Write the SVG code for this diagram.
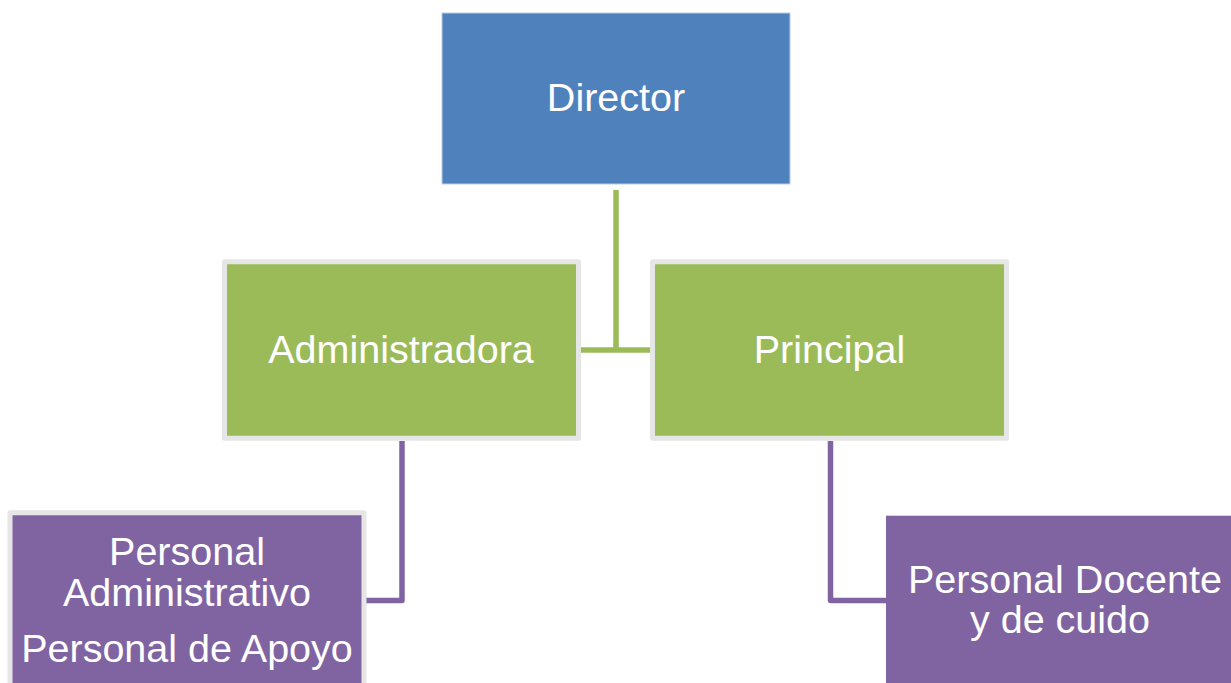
<svg xmlns="http://www.w3.org/2000/svg" width="1231" height="683" viewBox="0 0 1231 683">
  <style>
    .lbl { font-family: "Liberation Sans", Arial, sans-serif; font-size: 39.5px; fill: #FFFFFF; text-anchor: middle; }
    .blue { fill: #4F81BD; stroke: #B9CDE5; stroke-width: 1; }
    .green { fill: #9BBB59; stroke: #E6E6E6; stroke-width: 5; stroke-linejoin: round; }
    .purple { fill: #8064A2; }
    .purple-b { fill: #8064A2; stroke: #E6E6E6; stroke-width: 5; stroke-linejoin: round; }
    .c-green { fill: none; stroke: #9BBB59; stroke-width: 5.5; }
    .c-purple { fill: none; stroke: #8064A2; stroke-width: 5.5; stroke-linejoin: round; }
  </style>
  <rect width="1231" height="683" fill="#FFFFFF"/>

  <g id="connectors">
    <path class="c-green" d="M616 190 V350 M581 350 H650"/>
    <path class="c-purple" d="M402 441 V600.5 H366"/>
    <path class="c-purple" d="M830.5 441 V600.5 H887"/>
  </g>

  <g id="director">
    <rect class="blue" x="442" y="13" width="348" height="171"/>
    <text class="lbl" x="616" y="111">Director</text>
  </g>

  <g id="administradora">
    <rect class="green" x="224.5" y="261.8" width="354" height="176.5"/>
    <text class="lbl" x="401" y="363">Administradora</text>
  </g>

  <g id="principal">
    <rect class="green" x="652.5" y="261.8" width="354" height="176.5"/>
    <text class="lbl" x="829.5" y="363">Principal</text>
  </g>

  <g id="personal-administrativo">
    <rect class="purple-b" x="10" y="512.8" width="354" height="180"/>
    <text class="lbl" x="187" y="565">Personal</text>
    <text class="lbl" x="187" y="605.5">Administrativo</text>
    <text class="lbl" x="187" y="662">Personal de Apoyo</text>
  </g>

  <g id="personal-docente">
    <rect class="purple" x="886" y="515.7" width="350" height="180"/>
    <text class="lbl" x="1065" y="593">Personal Docente</text>
    <text class="lbl" x="1060" y="633">y de cuido</text>
  </g>
</svg>
